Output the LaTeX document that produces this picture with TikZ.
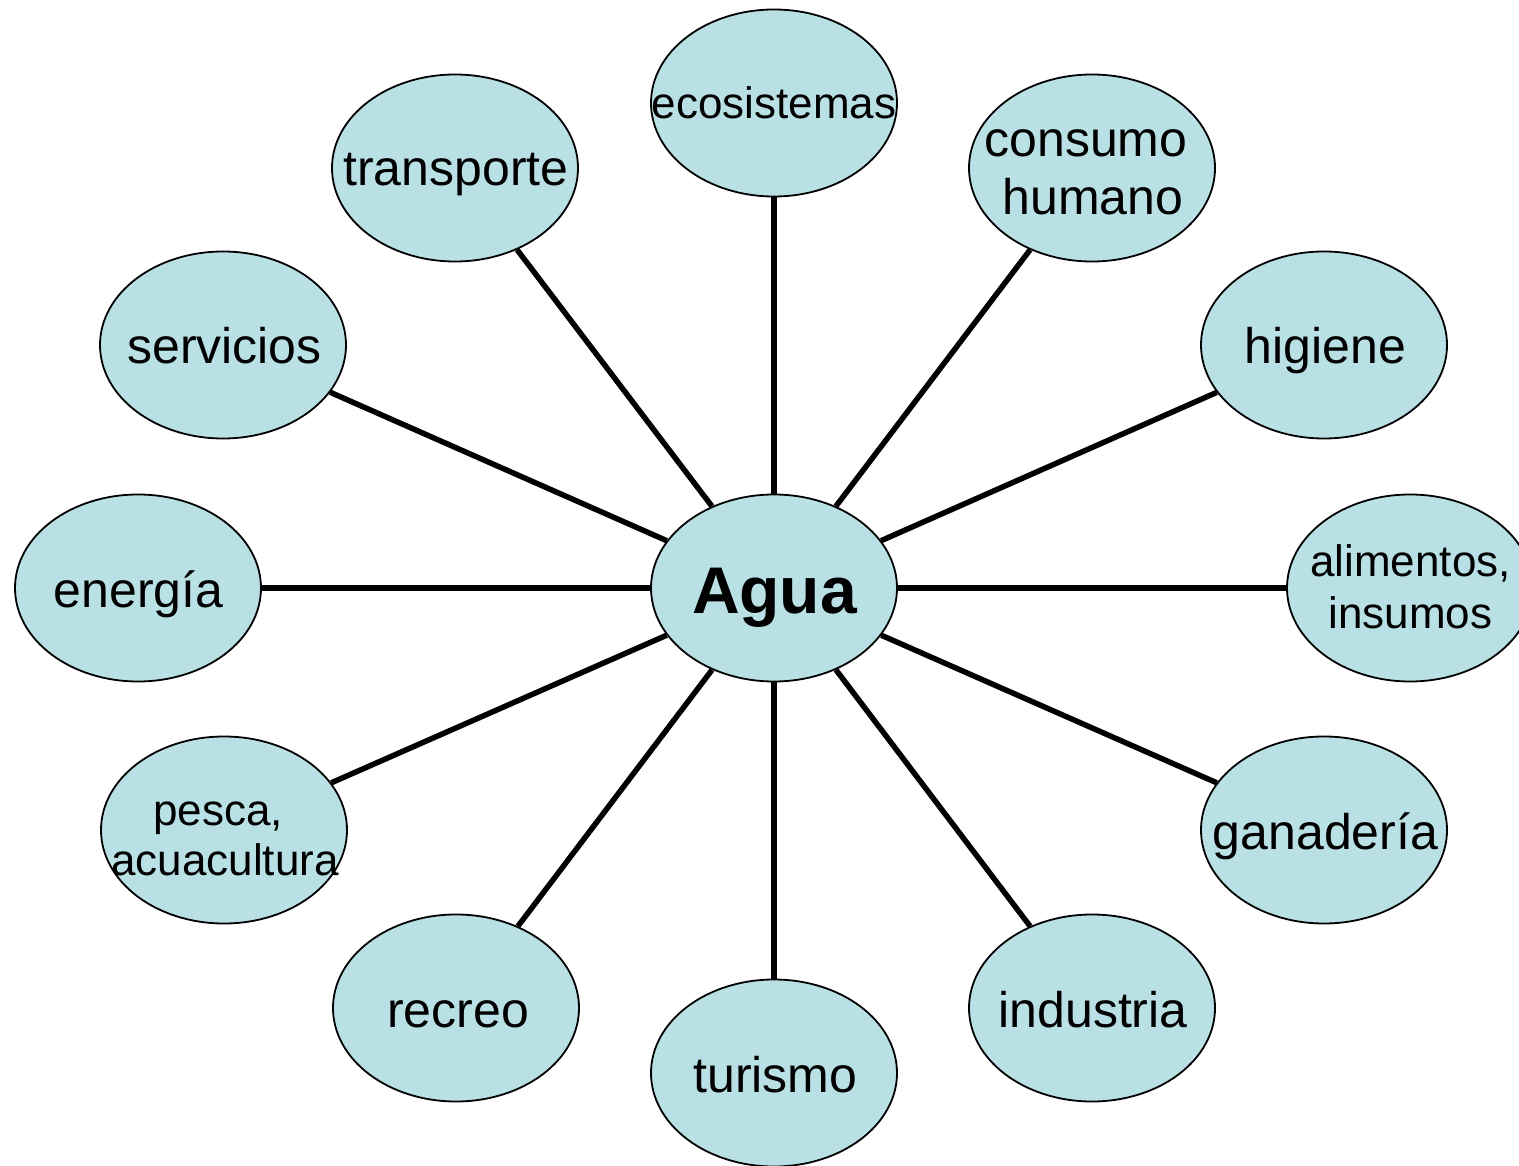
\documentclass[tikz,border=0pt]{standalone}
\usepackage{fontspec}
\setmainfont{Liberation Sans}
\usetikzlibrary{shapes.geometric}
\definecolor{bubble}{RGB}{185,224,228}
\tikzset{
  bub/.style={ellipse, draw=black, line width=1.8pt, fill=bubble, minimum width=246pt, minimum height=187pt, inner sep=0pt},
  lbl/.style={inner sep=0pt, anchor=base, font=\fontsize{50}{60}\selectfont},
  lblsm/.style={inner sep=0pt, anchor=base, font=\fontsize{44}{54}\selectfont},
  conn/.style={line width=5.5pt}
}
\begin{document}
\begin{tikzpicture}[x=1pt,y=-1pt]
\useasboundingbox (0,0) rectangle (1519,1166);
\clip (0,0) rectangle (1519,1166);
\node[bub] (agua) at (774,588) {};
\node[bub] (eco) at (774,103) {};
\node[bub] (trans) at (455,168) {};
\node[bub] (cons) at (1092,168) {};
\node[bub] (serv) at (223,345) {};
\node[bub] (hig) at (1324,345) {};
\node[bub] (ener) at (138,588) {};
\node[bub] (alim) at (1410,588) {};
\node[bub] (pesca) at (224,830) {};
\node[bub] (gan) at (1324,830) {};
\node[bub] (recreo) at (456,1008) {};
\node[bub] (ind) at (1092,1008) {};
\node[bub] (tur) at (774,1073) {};

\foreach \n in {eco,trans,cons,serv,hig,ener,alim,pesca,gan,recreo,ind,tur}
  \draw[conn] (agua) -- (\n);

\node[inner sep=0pt, anchor=base, font=\fontsize{66}{70}\selectfont\bfseries] (tagua) at (774.5,613) {Agua};
\node[lblsm] (teco) at (774,119) {ecosistemas};
\node[lbl] (ttrans) at (456,186) {transporte};
\node[lbl] (tcons1) at (1086,157) {consumo};
\node[lbl] (tcons2) at (1093,215) {humano};
\node[lbl] (tserv) at (224.5,364) {servicios};
\node[lbl] (thig) at (1325.5,364) {higiene};
\node[lbl] (tener) at (138.5,607) {energía};
\node[lblsm] (talim1) at (1410.5,576) {alimentos,};
\node[lblsm] (talim2) at (1410.5,628) {insumos};
\node[lblsm] (tpesca1) at (218,825) {pesca,};
\node[lblsm] (tpesca2) at (225,875) {acuacultura};
\node[lbl] (tgan) at (1325.5,849) {ganadería};
\node[lbl] (trecreo) at (458,1027) {recreo};
\node[lbl] (tind) at (1093,1027) {industria};
\node[lbl] (ttur) at (775.5,1092) {turismo};
\end{tikzpicture}
\end{document}
